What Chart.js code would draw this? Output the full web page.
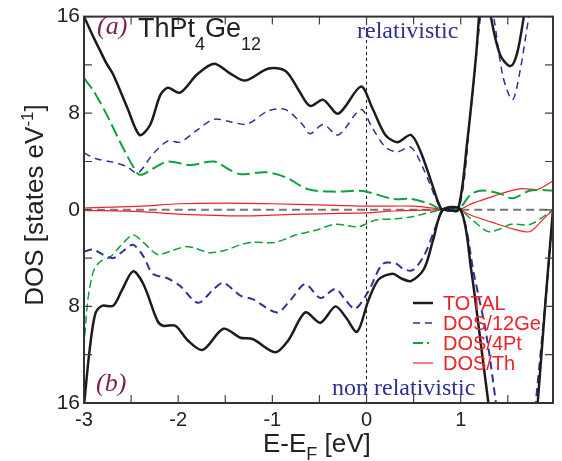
<!DOCTYPE html>
<html lang="en">
    <head>
        <meta charset="UTF-8">
        <title>ThPt4Ge12 DOS</title>
        <script src="https://cdn.jsdelivr.net/npm/chart.js"></script>
        <style>
            body, html {
                margin: 0;
                padding: 0;
                background: #fff;
            }
            #chartContainer {
                width: 562px;
                height: 461px;
            }
        </style>
    </head>
    <body>
        <div id="chartContainer">
            <canvas id="dosChart"></canvas>
        </div>

        <script>
            // energy axis (eV) and tick labels
            const xMin = -3, xMax = 1.98;
            const xLabelTicks = [-3, -2, -1, 0, 1];
            const yLabelTicks = [-16, -8, 0, 8, 16];

            // relativistic (upper half, positive)
            const relTotalX = [-3.00, -2.90, -2.83, -2.76, -2.69, -2.54, -2.41, -2.30, -2.19, -2.11, -1.98, -1.80, -1.62, -1.45, -1.29, -1.04, -0.86, -0.72, -0.60, -0.46, -0.30, -0.06, 0.06, 0.20, 0.33, 0.47, 0.57, 0.68, 0.79, 0.85, 0.97, 1.07, 1.16, 1.22, 1.27, 1.32, 1.42, 1.53, 1.60, 1.67, 1.75];
            const relTotalY = [16.0, 14.3, 13.2, 12.1, 11.2, 8.45, 6.2, 7.0, 9.5, 10.1, 9.7, 11.2, 12.1, 11.3, 10.7, 11.7, 11.5, 9.9, 8.6, 9.1, 7.96, 10.2, 8.45, 6.2, 5.6, 6.2, 4.9, 2.5, 0.1, 0, 0, 5.7, 12.5, 18, 19, 16, 12.8, 11.9, 13.0, 16, 20];

            const relGeX = [-3.00, -2.86, -2.69, -2.55, -2.43, -2.27, -2.11, -1.98, -1.80, -1.62, -1.45, -1.27, -1.04, -0.86, -0.68, -0.60, -0.46, -0.30, -0.06, 0.06, 0.20, 0.33, 0.47, 0.61, 0.76, 0.82, 0.98, 1.11, 1.21, 1.27, 1.35, 1.45, 1.55, 1.63, 1.72, 1.80];
            const relGeY = [4.7, 4.2, 3.95, 3.6, 3.05, 4.6, 5.7, 5.6, 6.6, 7.5, 7.3, 7.1, 8.2, 8.3, 7.06, 6.3, 7.06, 6.2, 8.3, 6.8, 5.2, 4.8, 5.2, 3.3, 0.5, 0, 0, 8.45, 16, 19, 16, 11, 9.1, 11.5, 15.8, 19];

            const relPtX = [-3.00, -2.90, -2.76, -2.59, -2.43, -2.37, -2.27, -2.11, -1.87, -1.62, -1.45, -1.34, -1.07, -0.86, -0.62, -0.33, -0.04, 0.28, 0.47, 0.68, 0.80, 0.97, 1.11, 1.24, 1.43, 1.55, 1.74, 1.98];
            const relPtY = [10.9, 9.85, 7.9, 5.2, 3.0, 2.95, 3.4, 4.0, 3.7, 4.0, 3.3, 2.95, 3.1, 2.7, 1.7, 1.5, 1.56, 0.9, 0.9, 0.47, 0, 0, 1.3, 1.6, 1.3, 0.95, 1.6, 1.6];

            const relThX = [-3.00, -2.40, -2.00, -1.50, -1.00, -0.50, 0.00, 0.50, 0.75, 0.82, 0.98, 1.10, 1.32, 1.50, 1.65, 1.82, 1.98];
            const relThY = [0.15, 0.3, 0.5, 0.55, 0.5, 0.4, 0.3, 0.3, 0.1, 0, 0, 0.45, 1.05, 1.5, 1.75, 1.7, 2.4];

            // non relativistic (lower half, plotted negative)
            const nonTotalX = [-3.00, -2.94, -2.88, -2.81, -2.69, -2.60, -2.48, -2.37, -2.22, -2.16, -2.03, -1.90, -1.74, -1.52, -1.34, -1.21, -0.97, -0.83, -0.65, -0.49, -0.33, -0.22, -0.10, 0.02, 0.13, 0.28, 0.36, 0.47, 0.61, 0.71, 0.81, 1.00, 1.11, 1.20, 1.29, 1.35, 1.55, 1.78, 1.82, 1.90, 1.98];
            const nonTotalY = [-16.2, -11.6, -8.6, -7.95, -7.95, -6.7, -5.1, -6.15, -9.2, -9.6, -9.6, -10.8, -11.6, -9.85, -10.6, -10.7, -11.8, -10.8, -8.5, -9.35, -8.0, -8.9, -10.1, -7.5, -5.75, -5.3, -5.65, -5.9, -4.9, -2.4, 0, 0, -4.9, -10.25, -15.75, -19, -30, -19, -15.75, -7.6, 0];

            const nonGeX = [-3.00, -2.90, -2.80, -2.69, -2.59, -2.48, -2.37, -2.27, -2.12, -1.98, -1.79, -1.62, -1.52, -1.34, -1.21, -0.95, -0.81, -0.65, -0.49, -0.33, -0.22, -0.12, 0.02, 0.17, 0.31, 0.39, 0.49, 0.61, 0.71, 0.80, 0.83, 1.00, 1.14, 1.27, 1.37, 1.42, 1.58, 1.76, 1.80, 1.90, 1.98];
            const nonGeY = [-3.45, -3.3, -3.7, -4.0, -3.45, -2.9, -3.85, -5.3, -5.65, -6.3, -7.7, -6.55, -6.05, -7.1, -7.4, -8.5, -7.5, -6.15, -7.3, -6.55, -7.5, -8.2, -6.75, -4.5, -4.45, -4.9, -5.0, -3.8, -1.9, -0.1, 0, 0, -5.3, -10.25, -15.75, -19, -30, -19, -15.75, -7.6, -0.2];

            const nonPtX = [-3.00, -2.96, -2.90, -2.83, -2.72, -2.62, -2.48, -2.37, -2.22, -2.09, -1.90, -1.66, -1.48, -1.34, -1.21, -0.97, -0.76, -0.54, -0.33, -0.09, 0.10, 0.31, 0.47, 0.68, 0.80, 0.98, 1.11, 1.29, 1.43, 1.53, 1.74, 1.98];
            const nonPtY = [-11.4, -7.55, -5.1, -4.3, -3.9, -3.05, -2.1, -2.7, -3.7, -3.45, -3.05, -3.55, -3.3, -2.9, -2.7, -2.7, -2.1, -1.7, -1.2, -1.4, -0.85, -0.75, -0.6, -0.2, 0, 0, -0.75, -1.8, -1.55, -1.2, -1.2, 0];

            const nonThX = [-3.00, -2.40, -2.00, -1.34, -0.68, 0.00, 0.30, 0.75, 0.98, 1.11, 1.32, 1.61, 1.74, 1.88, 1.98];
            const nonThY = [-0.05, -0.15, -0.35, -0.5, -0.35, -0.25, -0.1, 0, 0, -0.45, -1.0, -1.7, -1.8, -0.75, 0];

            const black = '#1c1c1c';
            const blue = '#2b3494';
            const green = '#10a040';
            const red = '#ee2229';

            function pts(xs, ys) {
                return xs.map((x, i) => ({ x: x, y: ys[i] }));
            }

            function line(xs, ys, color, width, dash) {
                return {
                    data: pts(xs, ys),
                    borderColor: color,
                    borderWidth: width,
                    borderDash: dash,
                    pointRadius: 0,
                    tension: 0.3,
                    fill: false,
                    clip: 0
                };
            }

            const datasets = [
                line(relTotalX, relTotalY, black, 2.5, []),
                line(nonTotalX, nonTotalY, black, 2.5, []),
                line(relGeX, relGeY, blue, 1.5, [7, 5]),
                line(nonGeX, nonGeY, blue, 2, [8, 5]),
                line(relPtX, relPtY, green, 2, [13, 5]),
                line(nonPtX, nonPtY, green, 1.5, [8, 4]),
                line(relThX, relThY, red, 1.2, []),
                line(nonThX, nonThY, red, 1.2, []),
                line([xMin, xMax], [0, 0], '#777', 2, [8, 5]),
                line([0, 0], [-16, 16], '#111', 1, [3, 3])
            ];

            const legendItems = [
                { text: 'TOTAL', color: black, width: 2.5, dash: [] },
                { text: 'DOS/12Ge', color: blue, width: 1.5, dash: [7, 5] },
                { text: 'DOS/4Pt', color: green, width: 2, dash: [10, 4, 2, 4] },
                { text: 'DOS/Th', color: red, width: 1.2, dash: [] }
            ];

            // draws text pieces one after another, each with its own size and baseline shift
            function flowText(ctx, x, y, parts) {
                parts.forEach(p => {
                    ctx.font = p.size + 'px "Liberation Sans"';
                    ctx.fillText(p.t, x, y + (p.dy || 0));
                    x += ctx.measureText(p.t).width;
                });
            }

            const decor = {
                id: 'decor',
                afterDraw(chart) {
                    const ctx = chart.ctx;
                    const a = chart.chartArea;
                    const xs = chart.scales.x, ys = chart.scales.y;
                    ctx.save();

                    // inward ticks on all four sides
                    ctx.strokeStyle = '#444';
                    ctx.lineWidth = 1.2;
                    ctx.setLineDash([]);
                    ctx.beginPath();
                    for (let v = -3; v <= 1.5001; v += 0.5) {
                        const px = xs.getPixelForValue(v);
                        ctx.moveTo(px, a.bottom); ctx.lineTo(px, a.bottom - 8);
                        ctx.moveTo(px, a.top); ctx.lineTo(px, a.top + 8);
                    }
                    for (let v = -16; v <= 16; v += 4) {
                        const py = ys.getPixelForValue(v);
                        ctx.moveTo(a.left, py); ctx.lineTo(a.left + 8, py);
                        ctx.moveTo(a.right, py); ctx.lineTo(a.right - 8, py);
                    }
                    ctx.stroke();

                    // frame
                    ctx.strokeStyle = '#333';
                    ctx.lineWidth = 2;
                    ctx.strokeRect(a.left, a.top, a.right - a.left, a.bottom - a.top);

                    // panel labels
                    ctx.textBaseline = 'alphabetic';
                    ctx.textAlign = 'left';
                    ctx.fillStyle = '#7a1f4e';
                    ctx.font = 'italic 26px "Liberation Serif"';
                    ctx.fillText('(a)', 97, 34);
                    ctx.fillText('(b)', 96, 391);

                    ctx.fillStyle = '#222';
                    flowText(ctx, 138, 37, [
                        { t: 'ThPt', size: 27 },
                        { t: '4', size: 18, dy: 13 },
                        { t: 'Ge', size: 27 },
                        { t: '12', size: 18, dy: 13 }
                    ]);

                    ctx.fillStyle = '#2e3192';
                    ctx.font = '24px "Liberation Serif"';
                    ctx.fillText('relativistic', 357, 38);
                    ctx.fillText('non relativistic', 332, 395);

                    // x axis title with subscript
                    ctx.fillStyle = '#222';
                    flowText(ctx, 263, 452, [
                        { t: 'E-E', size: 26 },
                        { t: 'F', size: 18, dy: 8 },
                        { t: ' [eV]', size: 26 }
                    ]);

                    // y axis title with superscript
                    ctx.save();
                    ctx.translate(43, 205);
                    ctx.rotate(-Math.PI / 2);
                    const p1 = 'DOS [states eV', p2 = '-1', p3 = ']';
                    ctx.font = '26px "Liberation Sans"';
                    const w1 = ctx.measureText(p1).width, w3 = ctx.measureText(p3).width;
                    ctx.font = '17px "Liberation Sans"';
                    const w2 = ctx.measureText(p2).width;
                    flowText(ctx, -(w1 + w2 + w3) / 2, 0, [
                        { t: p1, size: 26 },
                        { t: p2, size: 17, dy: -10 },
                        { t: p3, size: 26 }
                    ]);
                    ctx.restore();

                    // legend
                    ctx.font = '20px "Liberation Sans"';
                    ctx.textBaseline = 'middle';
                    legendItems.forEach((it, i) => {
                        const cy = 303 + i * 20;
                        ctx.strokeStyle = it.color;
                        ctx.lineWidth = it.width;
                        ctx.setLineDash(it.dash);
                        ctx.beginPath();
                        ctx.moveTo(413, cy);
                        ctx.lineTo(433, cy);
                        ctx.stroke();
                        ctx.fillStyle = red;
                        ctx.fillText(it.text, 443, cy + 1);
                    });
                    ctx.restore();
                }
            };

            new Chart(document.getElementById('dosChart'), {
                type: 'line',
                data: { datasets: datasets },
                plugins: [decor],
                options: {
                    responsive: true,
                    maintainAspectRatio: false,
                    animation: false,
                    layout: { padding: { left: 0, top: 13, right: 9, bottom: 0 } },
                    plugins: {
                        legend: { display: false },
                        tooltip: { enabled: false }
                    },
                    scales: {
                        x: {
                            type: 'linear',
                            min: xMin,
                            max: xMax,
                            grid: { display: false, drawTicks: false },
                            border: { display: false },
                            afterBuildTicks: (scale) => { scale.ticks = xLabelTicks.map(v => ({ value: v })); },
                            afterFit: (scale) => { scale.height = 58; },
                            ticks: {
                                autoSkip: false,
                                maxRotation: 0,
                                padding: 5,
                                color: '#222',
                                font: { family: 'Liberation Sans', size: 20 },
                                callback: (v) => String(v)
                            }
                        },
                        y: {
                            min: -16,
                            max: 16,
                            grid: { display: false, drawTicks: false },
                            border: { display: false },
                            afterBuildTicks: (scale) => { scale.ticks = yLabelTicks.map(v => ({ value: v })); },
                            afterFit: (scale) => { scale.width = 84; },
                            ticks: {
                                autoSkip: false,
                                padding: 4,
                                color: '#222',
                                font: { family: 'Liberation Sans', size: 21 },
                                callback: (v) => String(Math.abs(v))
                            }
                        }
                    }
                }
            });
        </script>
    </body>
</html>
